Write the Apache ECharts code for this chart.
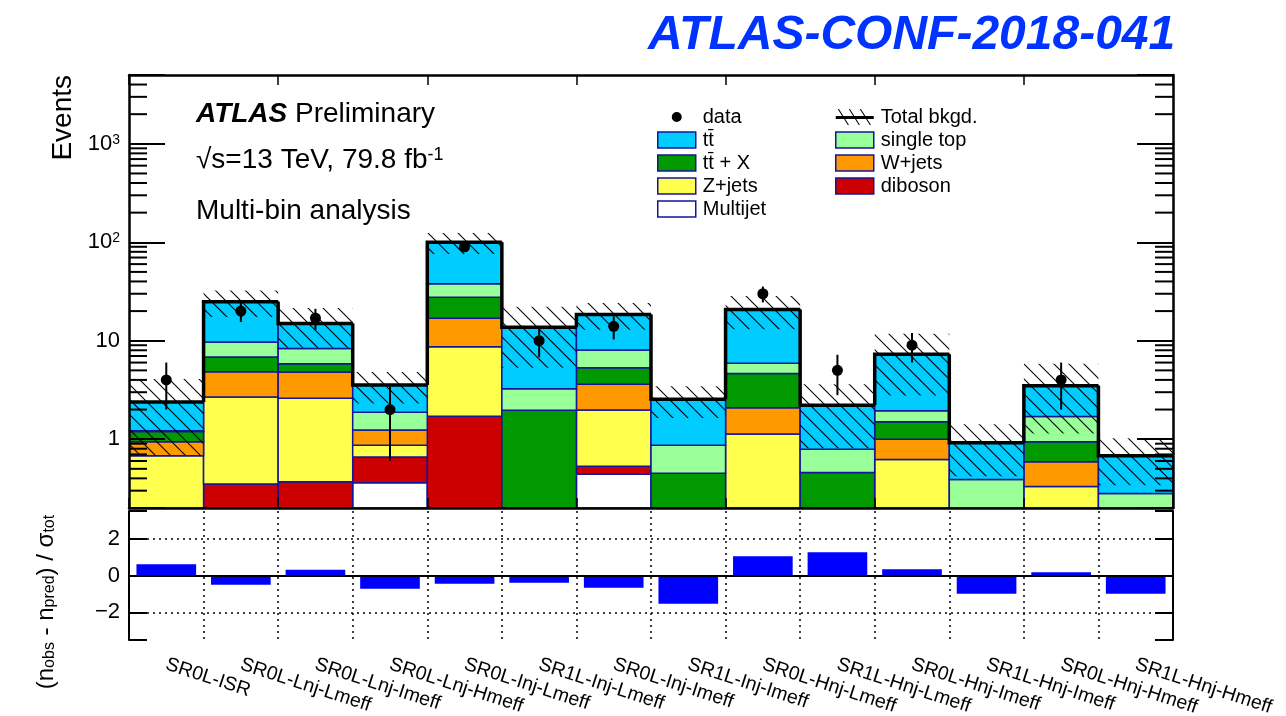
<!DOCTYPE html>
<html>
<head>
<meta charset="utf-8">
<title>ATLAS-CONF-2018-041</title>
<script src="https://cdn.jsdelivr.net/npm/echarts@6/dist/echarts.min.js"></script>
<style>
  html, body { margin: 0; padding: 0; background: #fff; }
  #chart { width: 1286px; height: 716px; }
</style>
</head>
<body>
<div id="chart"></div>
<script>
// signal regions (x categories)
const regions = [
    'SR0L-ISR', 'SR0L-Lnj-Lmeff', 'SR0L-Lnj-Imeff', 'SR0L-Lnj-Hmeff', 'SR0L-Inj-Lmeff',
    'SR1L-Inj-Lmeff', 'SR0L-Inj-Imeff', 'SR1L-Inj-Imeff', 'SR0L-Hnj-Lmeff', 'SR1L-Hnj-Lmeff',
    'SR0L-Hnj-Imeff', 'SR1L-Hnj-Imeff', 'SR0L-Hnj-Hmeff', 'SR1L-Hnj-Hmeff',
]

// background expectations, stacked bottom -> top
const multijet = [0, 0, 0, 0.36, 0, 0, 0.44, 0, 0, 0, 0, 0, 0, 0]
const diboson = [0, 0.35, 0.37, 0.30, 1.71, 0, 0.09, 0, 0, 0, 0, 0, 0, 0]
const zjets = [0.68, 2.33, 2.23, 0.21, 6.99, 0, 1.45, 0, 1.13, 0, 0.62, 0, 0.33, 0]
const wjets = [0.26, 2.17, 2.2, 0.37, 8.2, 0, 1.63, 0, 0.95, 0, 0.38, 0, 0.26, 0]
const ttx = [0.26, 1.97, 1.05, 0, 10.8, 1.97, 1.72, 0.45, 2.58, 0.46, 0.5, 0, 0.35, 0]
const singleTop = [0.02, 2.87, 2.51, 0.64, 10.2, 1.29, 2.71, 0.42, 1.23, 0.33, 0.44, 0.39, 0.76, 0.28]
const ttbar = [1.17, 15.2, 6.64, 1.67, 62.1, 10.44, 10.46, 1.67, 14.9, 1.42, 5.33, 0.53, 1.79, 0.40]

// total background uncertainty (hatched band)
const bkgUnc = [1.7, 7.5, 6.5, 1.25, 24, 8.4, 5.6, 0.9, 7.7, 1.4, 4.5, 0.5, 2.35, 0.34]

// observed data
const observed = [4, 20, 17, 2, 90, 10, 14, 0, 30, 5, 9, 0, 4, 0]
const observedErr = [2, 4.5, 4.1, 1.4, 9.5, 3.2, 3.7, 0, 5.5, 2.2, 3, 0, 2, 0]

// (n_obs - n_pred) / sigma_tot
const pulls = [0.61, -0.50, 0.31, -0.72, -0.45, -0.40, -0.67, -1.53, 1.05, 1.26, 0.34, -0.99, 0.18, -0.99]

const Y_MIN = 0.2
const Y_MAX = 5000
const FONT = 'Liberation Sans'
const EDGE = '#14149b'

const components = [
    { name: 'Multijet', values: multijet, color: '#ffffff' },
    { name: 'diboson', values: diboson, color: '#cc0000' },
    { name: 'Z+jets', values: zjets, color: '#ffff4d' },
    { name: 'W+jets', values: wjets, color: '#ff9900' },
    { name: 'tt\u0304 + X', values: ttx, color: '#009900' },
    { name: 'single top', values: singleTop, color: '#99ff99' },
    { name: 'tt\u0304', values: ttbar, color: '#00ccff' },
]

function hatchPattern() {
    const c = document.createElement('canvas')
    c.width = 15
    c.height = 15
    const g = c.getContext('2d')
    g.strokeStyle = '#000'
    g.lineWidth = 1.1
    for (const dx of [-15, 0, 15]) {
        g.beginPath()
        g.moveTo(dx - 1, -1)
        g.lineTo(dx + 16, 16)
        g.stroke()
    }
    return { image: c, repeat: 'repeat' }
}
const HATCH = hatchPattern()

// cumulative stack
const totals = regions.map(() => 0)
const stackSeries = components.map(c => {
    const items = []
    c.values.forEach((v, i) => {
        if (v > 0) items.push([i, totals[i], totals[i] + v])
        totals[i] += v
    })
    return {
        name: c.name,
        type: 'custom',
        xAxisIndex: 0,
        yAxisIndex: 0,
        clip: true,
        encode: { x: 0, y: 2 },
        itemStyle: { color: c.color, borderColor: EDGE, borderWidth: 1.5 },
        data: items,
        renderItem(params, api) {
            const i = api.value(0)
            const lo = api.coord([i, Math.max(api.value(1), Y_MIN)])
            const hi = api.coord([i, api.value(2)])
            const w = api.size([1, 0])[0]
            return {
                type: 'rect',
                shape: { x: lo[0] - w / 2, y: hi[1], width: w, height: lo[1] - hi[1] },
                style: api.style(),
            }
        },
    }
})

const minorTickValues = []
for (const d of [0.1, 1, 10, 100, 1000]) {
    for (let m = 2; m <= 9; m++) {
        const v = m * d
        if (v > Y_MIN * 1.001 && v < Y_MAX * 0.999) minorTickValues.push(v)
    }
}

const legendRect = (name, color) => ({
    name,
    icon: 'rect',
    itemStyle: { color, borderColor: EDGE, borderWidth: 1.5 },
})
const colorOf = name => components.find(c => c.name === name).color

const legendText = { fontFamily: FONT, fontSize: 20, color: '#000', padding: [0, 0, 0, 2] }

const chart = echarts.init(document.getElementById('chart'), null, { renderer: 'canvas' })

chart.setOption({
    animation: false,
    backgroundColor: '#fff',
    textStyle: { fontFamily: FONT },
    grid: [
        { left: 129, top: 75, width: 1044, height: 433, show: false, outerBoundsMode: 'none' },
        { left: 129, top: 511, width: 1044, height: 129, show: false, outerBoundsMode: 'none' },
    ],
    legend: [
        {
            left: 652, top: 102, orient: 'vertical',
            itemWidth: 38, itemHeight: 16, itemGap: 3,
            selectedMode: false, textStyle: legendText,
            data: [
                {
                    name: 'data',
                    icon: 'path://M0,0L0,0Z M38,16L38,16Z M19,3A5,5,0,1,1,19,13A5,5,0,1,1,19,3Z',
                    itemStyle: { color: '#000', borderWidth: 0 },
                },
                legendRect('tt\u0304', colorOf('tt\u0304')),
                legendRect('tt\u0304 + X', colorOf('tt\u0304 + X')),
                legendRect('Z+jets', colorOf('Z+jets')),
                legendRect('Multijet', colorOf('Multijet')),
            ],
        },
        {
            left: 830, top: 102, orient: 'vertical',
            itemWidth: 38, itemHeight: 16, itemGap: 3,
            selectedMode: false, textStyle: legendText,
            data: [
                {
                    name: 'Total bkgd.',
                    icon: 'path://M0,7L38,7L38,10L0,10Z M2,0L3.2,0L13.2,16L12,16Z M13,0L14.2,0L24.2,16L23,16Z M24,0L25.2,0L35.2,16L34,16Z',
                    itemStyle: { color: '#000', borderWidth: 0 },
                },
                legendRect('single top', colorOf('single top')),
                legendRect('W+jets', colorOf('W+jets')),
                legendRect('diboson', colorOf('diboson')),
            ],
        },
    ],
    xAxis: [
        {
            type: 'category', gridIndex: 0, position: 'bottom', data: regions, z: 10,
            axisLine: { show: true, lineStyle: { color: '#000', width: 2.5 } },
            axisTick: { show: true, inside: true, length: 10, lineStyle: { color: '#000', width: 1.5 } },
            axisLabel: { show: false },
            splitLine: { show: false },
        },
        {
            type: 'category', gridIndex: 0, position: 'top', data: regions, z: 10,
            axisLine: { show: true, lineStyle: { color: '#000', width: 2.5 } },
            axisTick: { show: true, inside: true, length: 10, lineStyle: { color: '#000', width: 1.5 } },
            axisLabel: { show: false },
            splitLine: { show: false },
        },
        {
            type: 'category', gridIndex: 1, position: 'bottom', data: regions, z: 10,
            axisLine: { show: true, lineStyle: { color: '#000', width: 2 } },
            axisTick: { show: false },
            axisLabel: {
                show: true, interval: 0, rotate: -18, margin: 24,
                fontFamily: FONT, fontSize: 19.5, color: '#000',
            },
            splitLine: { show: true, lineStyle: { color: '#000', width: 1.5, type: [2, 4] } },
        },
        {
            type: 'category', gridIndex: 1, position: 'top', data: regions, z: 10,
            axisLine: { show: true, lineStyle: { color: '#000', width: 2 } },
            axisTick: { show: false },
            axisLabel: { show: false },
            splitLine: { show: false },
        },
    ],
    yAxis: [
        {
            type: 'log', logBase: 10, gridIndex: 0, position: 'left', min: Y_MIN, max: Y_MAX, z: 10,
            axisLine: { show: true, lineStyle: { color: '#000', width: 2.5 } },
            axisTick: { show: true, inside: true, length: 36, lineStyle: { color: '#000', width: 2 } },
            splitLine: { show: false },
            axisLabel: {
                show: true, margin: 9, fontFamily: FONT, fontSize: 22, color: '#000',
                formatter: v => {
                    const e = Math.round(Math.log10(v))
                    if (Math.abs(v / Math.pow(10, e) - 1) > 1e-6) return ''
                    if (e <= 1) return String(Math.pow(10, e))
                    return '10{sup|' + e + '}'
                },
                rich: {
                    sup: { fontFamily: FONT, fontSize: 14, color: '#000', verticalAlign: 'top' },
                },
            },
        },
        {
            type: 'log', logBase: 10, gridIndex: 0, position: 'right', min: Y_MIN, max: Y_MAX, z: 10,
            axisLine: { show: true, lineStyle: { color: '#000', width: 2.5 } },
            axisTick: { show: true, inside: true, length: 36, lineStyle: { color: '#000', width: 2 } },
            splitLine: { show: false },
            axisLabel: { show: false },
        },
        {
            type: 'value', gridIndex: 1, position: 'left', min: -3.5, max: 3.5, splitNumber: 4, z: 10,
            axisLine: { show: true, lineStyle: { color: '#000', width: 2 } },
            axisTick: { show: true, inside: true, length: 18, lineStyle: { color: '#000', width: 2 } },
            splitLine: { show: false },
            axisLabel: {
                show: true, margin: 9, fontFamily: FONT, fontSize: 22, color: '#000',
                formatter: v => {
                    if (Math.abs(v - 2) < 1e-9) return '2'
                    if (Math.abs(v) < 1e-9) return '0'
                    if (Math.abs(v + 2) < 1e-9) return '\u22122'
                    return ''
                },
            },
        },
        {
            type: 'value', gridIndex: 1, position: 'right', min: -3.5, max: 3.5, splitNumber: 4, z: 10,
            axisLine: { show: true, lineStyle: { color: '#000', width: 2 } },
            axisTick: { show: true, inside: true, length: 18, lineStyle: { color: '#000', width: 2 } },
            splitLine: { show: false },
            axisLabel: { show: false },
        },
    ],
    series: [
        ...stackSeries,
        {
            name: 'Total bkgd.',
            type: 'custom',
            xAxisIndex: 0,
            yAxisIndex: 0,
            clip: true,
            z: 3,
            encode: { x: 0, y: 1 },
            itemStyle: { color: '#000' },
            data: totals.map((t, i) => [i, t, bkgUnc[i]]),
            renderItem(params, api) {
                const i = api.value(0)
                const t = api.value(1)
                const u = api.value(2)
                const lo = api.coord([i, Math.max(t - u, Y_MIN)])
                const hi = api.coord([i, t + u])
                const w = api.size([1, 0])[0]
                return {
                    type: 'rect',
                    shape: { x: lo[0] - w / 2, y: hi[1], width: w, height: lo[1] - hi[1] },
                    style: { fill: HATCH, stroke: null },
                }
            },
        },
        {
            name: 'outline',
            type: 'custom',
            xAxisIndex: 0,
            yAxisIndex: 0,
            clip: true,
            z: 4,
            encode: { x: 0, y: 1 },
            data: totals.map((t, i) => [i, t, i > 0 ? totals[i - 1] : t]),
            renderItem(params, api) {
                const i = api.value(0)
                const cur = api.coord([i, api.value(1)])
                const prev = api.coord([i, api.value(2)])
                const w = api.size([1, 0])[0]
                const left = cur[0] - w / 2
                return {
                    type: 'polyline',
                    shape: { points: [[left, prev[1]], [left, cur[1]], [left + w, cur[1]]] },
                    style: { stroke: '#000', lineWidth: 3.5, fill: null, lineJoin: 'miter' },
                }
            },
        },
        {
            name: 'data',
            type: 'custom',
            xAxisIndex: 0,
            yAxisIndex: 0,
            clip: true,
            z: 5,
            encode: { x: 0, y: 1 },
            itemStyle: { color: '#000' },
            data: observed.map((n, i) => [i, n, observedErr[i]]).filter(d => d[1] > 0),
            renderItem(params, api) {
                const i = api.value(0)
                const n = api.value(1)
                const e = api.value(2)
                const c = api.coord([i, n])
                const lo = api.coord([i, Math.max(n - e, Y_MIN)])
                const hi = api.coord([i, n + e])
                return {
                    type: 'group',
                    children: [
                        { type: 'line', shape: { x1: c[0], y1: lo[1], x2: c[0], y2: hi[1] }, style: { stroke: '#000', lineWidth: 2 } },
                        { type: 'circle', shape: { cx: c[0], cy: c[1], r: 5.5 }, style: { fill: '#000' } },
                    ],
                }
            },
        },
        {
            name: 'minor ticks',
            type: 'custom',
            xAxisIndex: 0,
            yAxisIndex: 0,
            z: 10,
            encode: { x: 0, y: 1 },
            data: minorTickValues.map(v => [0, v]),
            renderItem(params, api) {
                const y = api.coord([0, api.value(1)])[1]
                const cs = params.coordSys
                const st = { stroke: '#000', lineWidth: 2 }
                return {
                    type: 'group',
                    children: [
                        { type: 'line', shape: { x1: cs.x, y1: y, x2: cs.x + 18, y2: y }, style: st },
                        { type: 'line', shape: { x1: cs.x + cs.width - 18, y1: y, x2: cs.x + cs.width, y2: y }, style: st },
                    ],
                }
            },
        },
        {
            name: 'pull',
            type: 'bar',
            xAxisIndex: 2,
            yAxisIndex: 2,
            barWidth: '80%',
            itemStyle: { color: '#0000ff' },
            data: pulls,
            markLine: {
                silent: true,
                symbol: 'none',
                label: { show: false },
                lineStyle: { color: '#000', width: 1.5, type: [2, 4] },
                data: [{ yAxis: 2 }, { yAxis: -2 }],
            },
        },
    ],
    graphic: [
        {
            type: 'text', x: 648, y: 36,
            style: {
                text: 'ATLAS-CONF-2018-041', fill: '#0033ff',
                fontFamily: FONT, fontSize: 48, fontWeight: 'bold', fontStyle: 'italic',
                textAlign: 'left', textVerticalAlign: 'middle',
            },
        },
        {
            type: 'text', x: 196, y: 114,
            style: {
                text: '{b|ATLAS} Preliminary', fill: '#000',
                fontFamily: FONT, fontSize: 28, textAlign: 'left', textVerticalAlign: 'middle',
                rich: { b: { fontFamily: FONT, fontSize: 28, fontWeight: 'bold', fontStyle: 'italic', fill: '#000' } },
            },
        },
        {
            type: 'text', x: 196, y: 160,
            style: {
                text: '\u221As=13 TeV, 79.8 fb{sup|-1}', fill: '#000',
                fontFamily: FONT, fontSize: 28, textAlign: 'left', textVerticalAlign: 'middle',
                rich: { sup: { fontFamily: FONT, fontSize: 18, verticalAlign: 'top', fill: '#000' } },
            },
        },
        {
            type: 'text', x: 196, y: 211,
            style: {
                text: 'Multi-bin analysis', fill: '#000',
                fontFamily: FONT, fontSize: 28, textAlign: 'left', textVerticalAlign: 'middle',
            },
        },
        {
            type: 'text', x: 63, y: 75, rotation: Math.PI / 2,
            style: {
                text: 'Events', fill: '#000',
                fontFamily: FONT, fontSize: 28, textAlign: 'right', textVerticalAlign: 'middle',
            },
        },
        {
            type: 'text', x: 46, y: 602, rotation: Math.PI / 2,
            style: {
                text: '(n{sub|obs} - n{sub|pred}) / \u03C3{sub|tot}', fill: '#000',
                fontFamily: FONT, fontSize: 24, textAlign: 'center', textVerticalAlign: 'middle',
                rich: { sub: { fontFamily: FONT, fontSize: 16, verticalAlign: 'bottom', fill: '#000' } },
            },
        },
    ],
})
</script>
</body>
</html>
